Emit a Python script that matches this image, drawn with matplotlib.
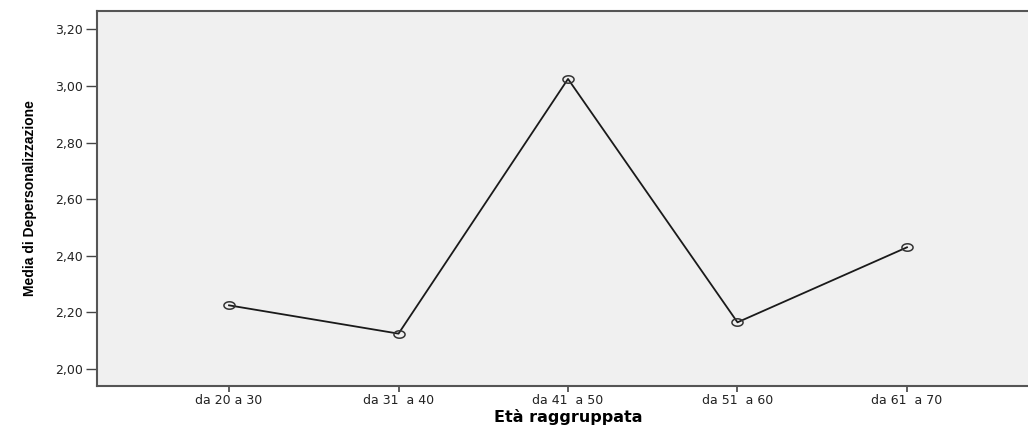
import matplotlib
matplotlib.use('Agg')
import numpy as np
import matplotlib.pyplot as plt
from matplotlib.path import Path

# 数据
categories = ['da 20 a 30', 'da 31  a 40', 'da 41  a 50', 'da 51  a 60', 'da 61  a 70']
values = [2.225, 2.125, 3.025, 2.165, 2.430]
yticks = [2.00, 2.20, 2.40, 2.60, 2.80, 3.00, 3.20]

plt.rcParams['font.family'] = ['DejaVu Sans']

# 椭圆形标记（原图被横向拉伸）
t = np.linspace(0, 2 * np.pi, 60)
ellipse = Path(np.column_stack([1.5 * np.cos(t), np.sin(t)]), closed=True)

fig = plt.figure(figsize=(10.28, 4.28), dpi=100)
ax = fig.add_axes([97 / 1028, 1 - 386 / 428, 1 - 97 / 1028, 375 / 428])
ax.set_facecolor('#f0f0f0')

x = list(range(len(categories)))
ax.plot(x, values, color='#1a1a1a', linewidth=1.3, marker=ellipse, markersize=8,
        markerfacecolor='none', markeredgecolor='#333333', markeredgewidth=1.1)

ax.set_xlim(-0.779, 4.714)
ax.set_ylim(1.94, 3.265)
ax.set_xticks(x)
ax.set_xticklabels(categories, fontsize=9)
ax.set_yticks(yticks)
ax.set_yticklabels([('%.2f' % v).replace('.', ',') for v in yticks], fontsize=9)
ax.tick_params(axis='y', direction='out', length=8, width=1, color='#444444', pad=2,
               labelcolor='#222222')
ax.tick_params(axis='x', direction='out', length=4, width=1.2, color='#444444', pad=2,
               labelcolor='#222222')

for s in ['left', 'bottom', 'top']:
    ax.spines[s].set_color('#555555')
    ax.spines[s].set_linewidth(1.5)
ax.spines['right'].set_visible(False)

ax.set_ylabel('Media di Depersonalizzazione', fontsize=10, fontweight='bold',
              family=['Liberation Sans', 'DejaVu Sans'])
ax.yaxis.set_label_coords(-60 / 931, 0.5)
ax.set_xlabel('Età raggruppata', fontsize=11.5, fontweight='bold')
ax.xaxis.set_label_coords((568 - 97) / 931, -0.062)

fig.savefig('out.png', dpi=100)
